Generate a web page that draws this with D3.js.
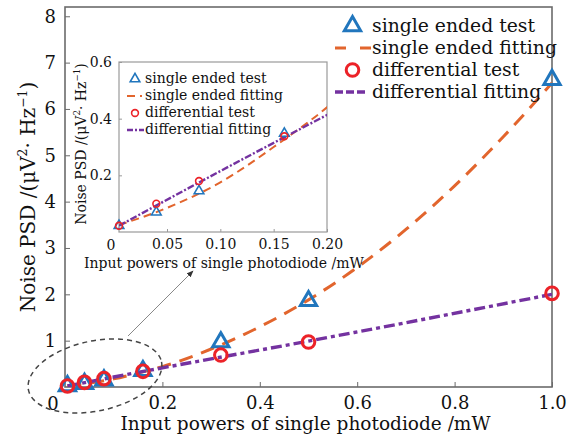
<!DOCTYPE html>
<html>
<head>
<meta charset="utf-8">
<script src="https://cdn.jsdelivr.net/npm/d3@7"></script>
<style>
  body { margin: 0; background: #fff; }
  text { font-family: "DejaVu Serif", "Liberation Serif", serif; fill: #111; }
</style>
</head>
<body>
<svg width="574" height="437"></svg>
<script>
// measured points
var xTest = [0.005, 0.04, 0.08, 0.16, 0.32, 0.5, 1.0];
var singleTest = [0.022, 0.07, 0.145, 0.348, 0.97, 1.86, 6.63];
var diffTest = [0.022, 0.1, 0.18, 0.338, 0.69, 0.97, 2.02];

// fitted curves
var singleFitX = [0.005, 0.05, 0.1, 0.15, 0.2, 0.3, 0.4, 0.5, 0.6, 0.7, 0.8, 0.9, 1.0];
var singleFit = [0.025, 0.085, 0.175, 0.30, 0.44, 0.82, 1.30, 1.88, 2.58, 3.40, 4.34, 5.40, 6.56];
var diffFitX = [0.005, 0.1, 0.2, 0.5, 1.0];
var diffFit = [0.022, 0.215, 0.413, 0.99, 2.0];

var mainXTicks = [0.2, 0.4, 0.6, 0.8, 1.0];
var mainYTicks = [1, 2, 3, 4, 5, 6, 7, 8];
var insetXTicks = [0.05, 0.10, 0.15, 0.20];
var insetYTicks = [0.2, 0.4, 0.6];

var legendLabels = ["single ended test", "single ended fitting", "differential test", "differential fitting"];
var xTitle = "Input powers of single photodiode /mW";

var cBlue = "#2176bd", cOrange = "#e2652d", cRed = "#ec2228", cPurple = "#7432a0";

var svg = d3.select("svg");

function zip(xs, ys) { return xs.map(function(x, i) { return {x: x, y: ys[i]}; }); }

// draws one panel (main or inset)
function panel(o) {
  var g = svg.append("g");
  var x = d3.scaleLinear().domain(o.xDomain).range([o.left, o.right]);
  var y = d3.scaleLinear().domain(o.yDomain).range([o.bottom, o.top]);

  var clipId = "clip" + o.id;
  svg.append("clipPath").attr("id", clipId).append("rect")
      .attr("x", o.left).attr("y", o.top)
      .attr("width", o.right - o.left).attr("height", o.bottom - o.top);

  if (o.inset) {
    g.append("rect")
        .attr("x", o.left).attr("y", o.top)
        .attr("width", o.right - o.left).attr("height", o.bottom - o.top)
        .style("fill", "#fff");
  }

  // axes, ticks pointing inward
  var xa = g.append("g")
      .attr("transform", "translate(0," + o.bottom + ")")
      .call(d3.axisBottom(x).tickValues(o.xTicks).tickSizeInner(-o.tick).tickSizeOuter(0)
        .tickPadding(o.tick + o.pad).tickFormat(d3.format(o.xFmt)));
  var ya = g.append("g")
      .attr("transform", "translate(" + o.left + ",0)")
      .call(d3.axisLeft(y).tickValues(o.yTicks).tickSizeInner(-o.tick).tickSizeOuter(0)
        .tickPadding(o.tick + o.pad).tickFormat(d3.format(o.yFmt)));
  [xa, ya].forEach(function(a) {
    a.select(".domain").remove();
    a.selectAll("line").attr("stroke", o.frame);
    a.selectAll("text").style("font-family", "DejaVu Serif").style("font-size", o.tickFont + "px").attr("fill", "#111");
  });

  // corner "0"
  g.append("text")
      .attr("x", o.zeroX).attr("y", o.zeroY)
      .attr("text-anchor", "middle")
      .style("font-size", o.tickFont + "px")
      .text("0");

  g.append("rect")
      .attr("x", o.left).attr("y", o.top)
      .attr("width", o.right - o.left).attr("height", o.bottom - o.top)
      .style("fill", "none").style("stroke", o.frame).style("stroke-width", o.frameW);

  var line = d3.line()
      .x(function(d) { return x(d.x); })
      .y(function(d) { return y(d.y); })
      .curve(d3.curveMonotoneX);

  var lines = g.append("g").attr("clip-path", "url(#" + clipId + ")");
  lines.append("path")
      .attr("d", line(zip(singleFitX, singleFit)))
      .style("fill", "none").style("stroke", cOrange)
      .style("stroke-width", o.lw).style("stroke-dasharray", o.dashOrange);
  lines.append("path")
      .attr("d", line(zip(diffFitX, diffFit)))
      .style("fill", "none").style("stroke", cPurple)
      .style("stroke-width", o.lw + 0.4).style("stroke-dasharray", o.dashPurple);

  var pts = zip(xTest, singleTest).filter(function(d) { return d.x <= o.xDomain[1]; });
  var cps = zip(xTest, diffTest).filter(function(d) { return d.x <= o.xDomain[1]; });

  var tri = d3.symbol().type(d3.symbolTriangle).size(o.triSize);
  g.selectAll(null).data(pts).enter().append("path")
      .attr("d", tri)
      .attr("transform", function(d) { return "translate(" + x(d.x) + "," + y(d.y) + ")"; })
      .style("fill", "none").style("stroke", cBlue).style("stroke-width", o.mw);
  g.selectAll(null).data(cps).enter().append("circle")
      .attr("cx", function(d) { return x(d.x); })
      .attr("cy", function(d) { return y(d.y); })
      .attr("r", o.r)
      .style("fill", "none").style("stroke", cRed).style("stroke-width", o.mw);

  // titles
  g.append("text")
      .attr("x", (o.left + o.right) / 2 + o.xTitleDx).attr("y", o.xTitleY)
      .attr("text-anchor", "middle")
      .style("font-size", o.titleFont + "px")
      .text(xTitle);

  var yt = g.append("text")
      .attr("transform", "translate(" + o.yTitleX + "," + ((o.top + o.bottom) / 2 + o.yTitleDy) + ") rotate(-90)")
      .attr("text-anchor", "middle")
      .style("font-size", o.yTitleFont + "px");
  yt.append("tspan").text("Noise PSD /(\u03bcV");
  yt.append("tspan").attr("dy", -o.yTitleFont * 0.4).style("font-size", (o.yTitleFont * 0.62) + "px").text("2");
  yt.append("tspan").attr("dy", o.yTitleFont * 0.4).text("\u00b7 Hz");
  yt.append("tspan").attr("dy", -o.yTitleFont * 0.4).style("font-size", (o.yTitleFont * 0.62) + "px").text("\u22121");
  yt.append("tspan").attr("dy", o.yTitleFont * 0.4).text(")");

  // legend
  var lg = g.append("g");
  legendLabels.forEach(function(label, i) {
    var ly = o.legY + i * o.legStep;
    var mx = o.legX - o.legSample / 2 - 2;
    if (i === 0) {
      lg.append("path").attr("d", tri).attr("transform", "translate(" + mx + "," + ly + ")")
        .style("fill", "none").style("stroke", cBlue).style("stroke-width", o.mw);
    } else if (i === 2) {
      lg.append("circle").attr("cx", mx).attr("cy", ly).attr("r", o.r)
        .style("fill", "none").style("stroke", cRed).style("stroke-width", o.mw);
    } else {
      lg.append("line")
        .attr("x1", o.legX - o.legSample - 2).attr("x2", o.legX - 1)
        .attr("y1", ly).attr("y2", ly)
        .style("stroke", i === 1 ? cOrange : cPurple)
        .style("stroke-width", i === 1 ? o.lw : o.lw + 0.4)
        .style("stroke-dasharray", i === 1 ? o.legDashOrange : o.legDashPurple);
    }
    lg.append("text")
      .attr("x", o.legX).attr("y", ly).attr("dy", "0.32em")
      .style("font-size", o.legFont + "px")
      .text(label);
  });

  return {x: x, y: y};
}

// main chart
panel({
  id: "main", inset: false,
  left: 65, right: 552, top: 7, bottom: 387,
  xDomain: [0, 1], yDomain: [0, 8.2],
  xTicks: mainXTicks, yTicks: mainYTicks, xFmt: ".1f", yFmt: "d",
  tick: 5, pad: 4, tickFont: 18, frame: "#6b6b6b", frameW: 1.6,
  zeroX: 53, zeroY: 410,
  lw: 3, dashOrange: "14,9", dashPurple: "11,4,4,4",
  triSize: 115, r: 6.3, mw: 3,
  titleFont: 18.5, xTitleY: 430, xTitleDx: -3,
  yTitleFont: 20, yTitleX: 35, yTitleDy: 0,
  legX: 372, legY: 26, legStep: 22, legSample: 35, legFont: 18.8,
  legDashOrange: "11,14,11", legDashPurple: "8,3,8,3,8"
});

// zoom ellipse and arrow
svg.append("ellipse")
    .attr("cx", 95).attr("cy", 376).attr("rx", 68).attr("ry", 35)
    .attr("transform", "rotate(-12,95,376)")
    .style("fill", "none").style("stroke", "#444").style("stroke-width", 1.5)
    .style("stroke-dasharray", "5,4");

svg.append("defs").append("marker")
    .attr("id", "arrow").attr("viewBox", "0 0 10 10")
    .attr("refX", 9).attr("refY", 5)
    .attr("markerWidth", 7).attr("markerHeight", 7)
    .attr("orient", "auto")
  .append("path").attr("d", "M0,1L10,5L0,9Z").style("fill", "#333");

svg.append("line")
    .attr("x1", 128).attr("y1", 336).attr("x2", 193).attr("y2", 271)
    .style("stroke", "#888").style("stroke-width", 1)
    .attr("marker-end", "url(#arrow)");

// inset
panel({
  id: "inset", inset: true,
  left: 119, right: 327, top: 62, bottom: 232,
  xDomain: [0.005, 0.2], yDomain: [0, 0.6],
  xTicks: insetXTicks, yTicks: insetYTicks, xFmt: ".2f", yFmt: ".1f",
  tick: 3, pad: 4, tickFont: 14, frame: "#9a9a9a", frameW: 1.2,
  zeroX: 111, zeroY: 250,
  lw: 2, dashOrange: "8,5", dashPurple: "7,2,2,2",
  triSize: 40, r: 3.4, mw: 1.6,
  titleFont: 14, xTitleY: 268, xTitleDx: 1,
  yTitleFont: 14, yTitleX: 86, yTitleDy: -3,
  legX: 145, legY: 79, legStep: 17, legSample: 16, legFont: 14,
  legDashOrange: "8,5,2", legDashPurple: "6,2,2,2,6"
});
</script>
</body>
</html>
